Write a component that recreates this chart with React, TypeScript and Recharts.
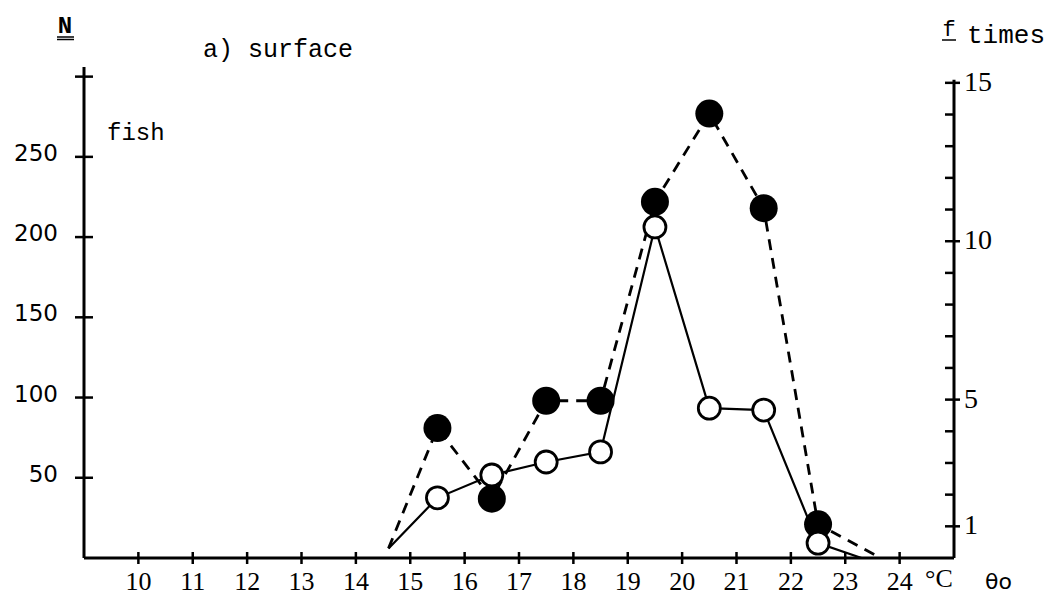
import React from 'react';
import { LineChart, Line, XAxis, YAxis, ReferenceLine } from 'recharts';

// Temperatures (°C, θo) at which the observations were plotted
const obsTemps = [15.5, 16.5, 17.5, 18.5, 19.5, 20.5, 21.5, 22.5];
// N fish (left axis), filled circles, dashed line
const fishN = [81, 37, 98, 98, 222, 277, 218, 21];
// f times (right axis), open circles, solid line
const timesF = [1.9, 2.62, 3.03, 3.35, 10.45, 4.73, 4.67, 0.47];

// Line start / end points (no markers)
const fishEnds = [
  [14.6, 6],
  [23.65, 0],
];
const timesEnds = [
  [14.6, 0.3],
  [23.3, 0],
];

const xTicks = [10, 11, 12, 13, 14, 15, 16, 17, 18, 19, 20, 21, 22, 23, 24];
const nTicks = [50, 100, 150, 200, 250, 300];
const nLabeled = [50, 100, 150, 200, 250];
const fTicks = [1, 2, 3, 4, 5, 6, 7, 8, 9, 10, 11, 12, 13, 14, 15];
const fLabeled = [1, 5, 10, 15];
const xDomain = [9, 25];
const nDomain = [0, 306];
const fDomain = [0, 15.5];
const fAxisTop = 15.1;

const fishData = [
  { t: fishEnds[0][0], n: fishEnds[0][1], obs: false },
  ...obsTemps.map((t, i) => ({ t, n: fishN[i], obs: true })),
  { t: fishEnds[1][0], n: fishEnds[1][1], obs: false },
];
const timesData = [
  { t: timesEnds[0][0], f: timesEnds[0][1], obs: false },
  ...obsTemps.map((t, i) => ({ t, f: timesF[i], obs: true })),
  { t: timesEnds[1][0], f: timesEnds[1][1], obs: false },
];

const MONO = '"Liberation Mono", "DejaVu Sans Mono", monospace';
const SERIF = '"Liberation Serif", "DejaVu Serif", serif';
const SANS = '"DejaVu Sans", sans-serif';

const XTick = (props: any) => {
  const { x, y, payload } = props;
  return (
    <g>
      <line x1={x} x2={x} y1={y - 6} y2={y + 6} stroke="#000" strokeWidth={2.5} />
      <text x={x} y={y + 32} textAnchor="middle" fontFamily={SERIF} fontSize={26} fill="#000">
        {payload.value}
      </text>
    </g>
  );
};

const NTick = (props: any) => {
  const { x, y, payload } = props;
  return (
    <g>
      <line x1={x - 9} x2={x + 9} y1={y} y2={y} stroke="#000" strokeWidth={2.5} />
      {nLabeled.includes(payload.value) && (
        <text x={x - 26} y={y + 4} textAnchor="end" fontFamily={SANS} fontSize={23} fill="#000">
          {payload.value}
        </text>
      )}
    </g>
  );
};

const FTick = (props: any) => {
  const { x, y, payload } = props;
  const lab = fLabeled.includes(payload.value);
  return (
    <g>
      <line x1={x - 9} x2={x + (lab ? 6 : 1)} y1={y} y2={y} stroke="#000" strokeWidth={2.5} />
      {lab && (
        <text x={x + 10} y={y + 8} textAnchor="start" fontFamily={SERIF} fontSize={28} fill="#000">
          {payload.value}
        </text>
      )}
    </g>
  );
};

const FilledDot = (props: any) => {
  const { cx, cy, payload, index } = props;
  if (!payload.obs || cx == null) return <g key={`fd${index}`} />;
  return <circle key={`fd${index}`} cx={cx} cy={cy} r={14} fill="#000" stroke="none" />;
};

const OpenDot = (props: any) => {
  const { cx, cy, payload, index } = props;
  if (!payload.obs || cx == null) return <g key={`od${index}`} />;
  return <circle key={`od${index}`} cx={cx} cy={cy} r={11} fill="#fff" stroke="#000" strokeWidth={2.8} />;
};

export default function App() {
  return (
    <div style={{ position: 'absolute', left: 0, top: 0, width: 1055, height: 598, background: '#fff' }}>
      <LineChart width={1055} height={598} margin={{ top: 67, right: 0, bottom: 0, left: 0 }}>
        <XAxis
          xAxisId={0}
          dataKey="t"
          type="number"
          domain={xDomain}
          ticks={xTicks}
          interval={0}
          allowDataOverflow
          height={40}
          tickSize={0}
          tickMargin={0}
          tickLine={false}
          axisLine={{ stroke: '#000', strokeWidth: 3 }}
          tick={<XTick />}
        />
        <YAxis
          yAxisId="n"
          orientation="left"
          type="number"
          domain={nDomain}
          ticks={nTicks}
          interval={0}
          allowDataOverflow
          width={84}
          tickSize={0}
          tickMargin={0}
          tickLine={false}
          axisLine={{ stroke: '#000', strokeWidth: 3 }}
          tick={<NTick />}
        />
        <YAxis
          yAxisId="f"
          orientation="right"
          type="number"
          domain={fDomain}
          ticks={fTicks}
          interval={0}
          allowDataOverflow
          width={101}
          tickSize={0}
          tickMargin={0}
          tickLine={false}
          axisLine={false}
          tick={<FTick />}
        />
        <ReferenceLine
          yAxisId="f"
          segment={[
            { x: xDomain[1], y: 0 },
            { x: xDomain[1], y: fAxisTop },
          ]}
          stroke="#000"
          strokeWidth={3}
          ifOverflow="visible"
        />
        <Line
          data={fishData}
          dataKey="n"
          yAxisId="n"
          type="linear"
          stroke="#000"
          strokeWidth={2.8}
          strokeDasharray="11 8"
          dot={FilledDot}
          activeDot={false}
          isAnimationActive={false}
        />
        <Line
          data={timesData}
          dataKey="f"
          yAxisId="f"
          type="linear"
          stroke="#000"
          strokeWidth={2.2}
          dot={OpenDot}
          activeDot={false}
          isAnimationActive={false}
        />
      </LineChart>
      <svg
        width={1055}
        height={598}
        style={{ position: 'absolute', left: 0, top: 0, pointerEvents: 'none' }}
      >
        <text x={65} y={33} textAnchor="middle" fontFamily={MONO} fontSize={24} fontWeight="bold" fill="#000">
          N
        </text>
        <line x1={57} x2={74} y1={37} y2={37} stroke="#000" strokeWidth={1.5} />
        <line x1={57} x2={74} y1={39.5} y2={39.5} stroke="#000" strokeWidth={1.5} />
        <text x={203} y={57} fontFamily={MONO} fontSize={25} fill="#000">
          a) surface
        </text>
        <text x={107} y={140} fontFamily={MONO} fontSize={24} fill="#000">
          fish
        </text>
        <text x={949} y={36} textAnchor="middle" fontFamily={MONO} fontSize={22} fill="#000">
          f
        </text>
        <line x1={942} x2={956} y1={40} y2={40} stroke="#000" strokeWidth={1.5} />
        <text x={967} y={43} fontFamily={MONO} fontSize={26} fill="#000">
          times
        </text>
        <text x={925} y={587} fontFamily={SERIF} fontSize={26} fill="#000">
          °C
        </text>
        <text x={985} y={589} fontFamily={SANS} fontSize={22} fill="#000">
          θo
        </text>
      </svg>
    </div>
  );
}
